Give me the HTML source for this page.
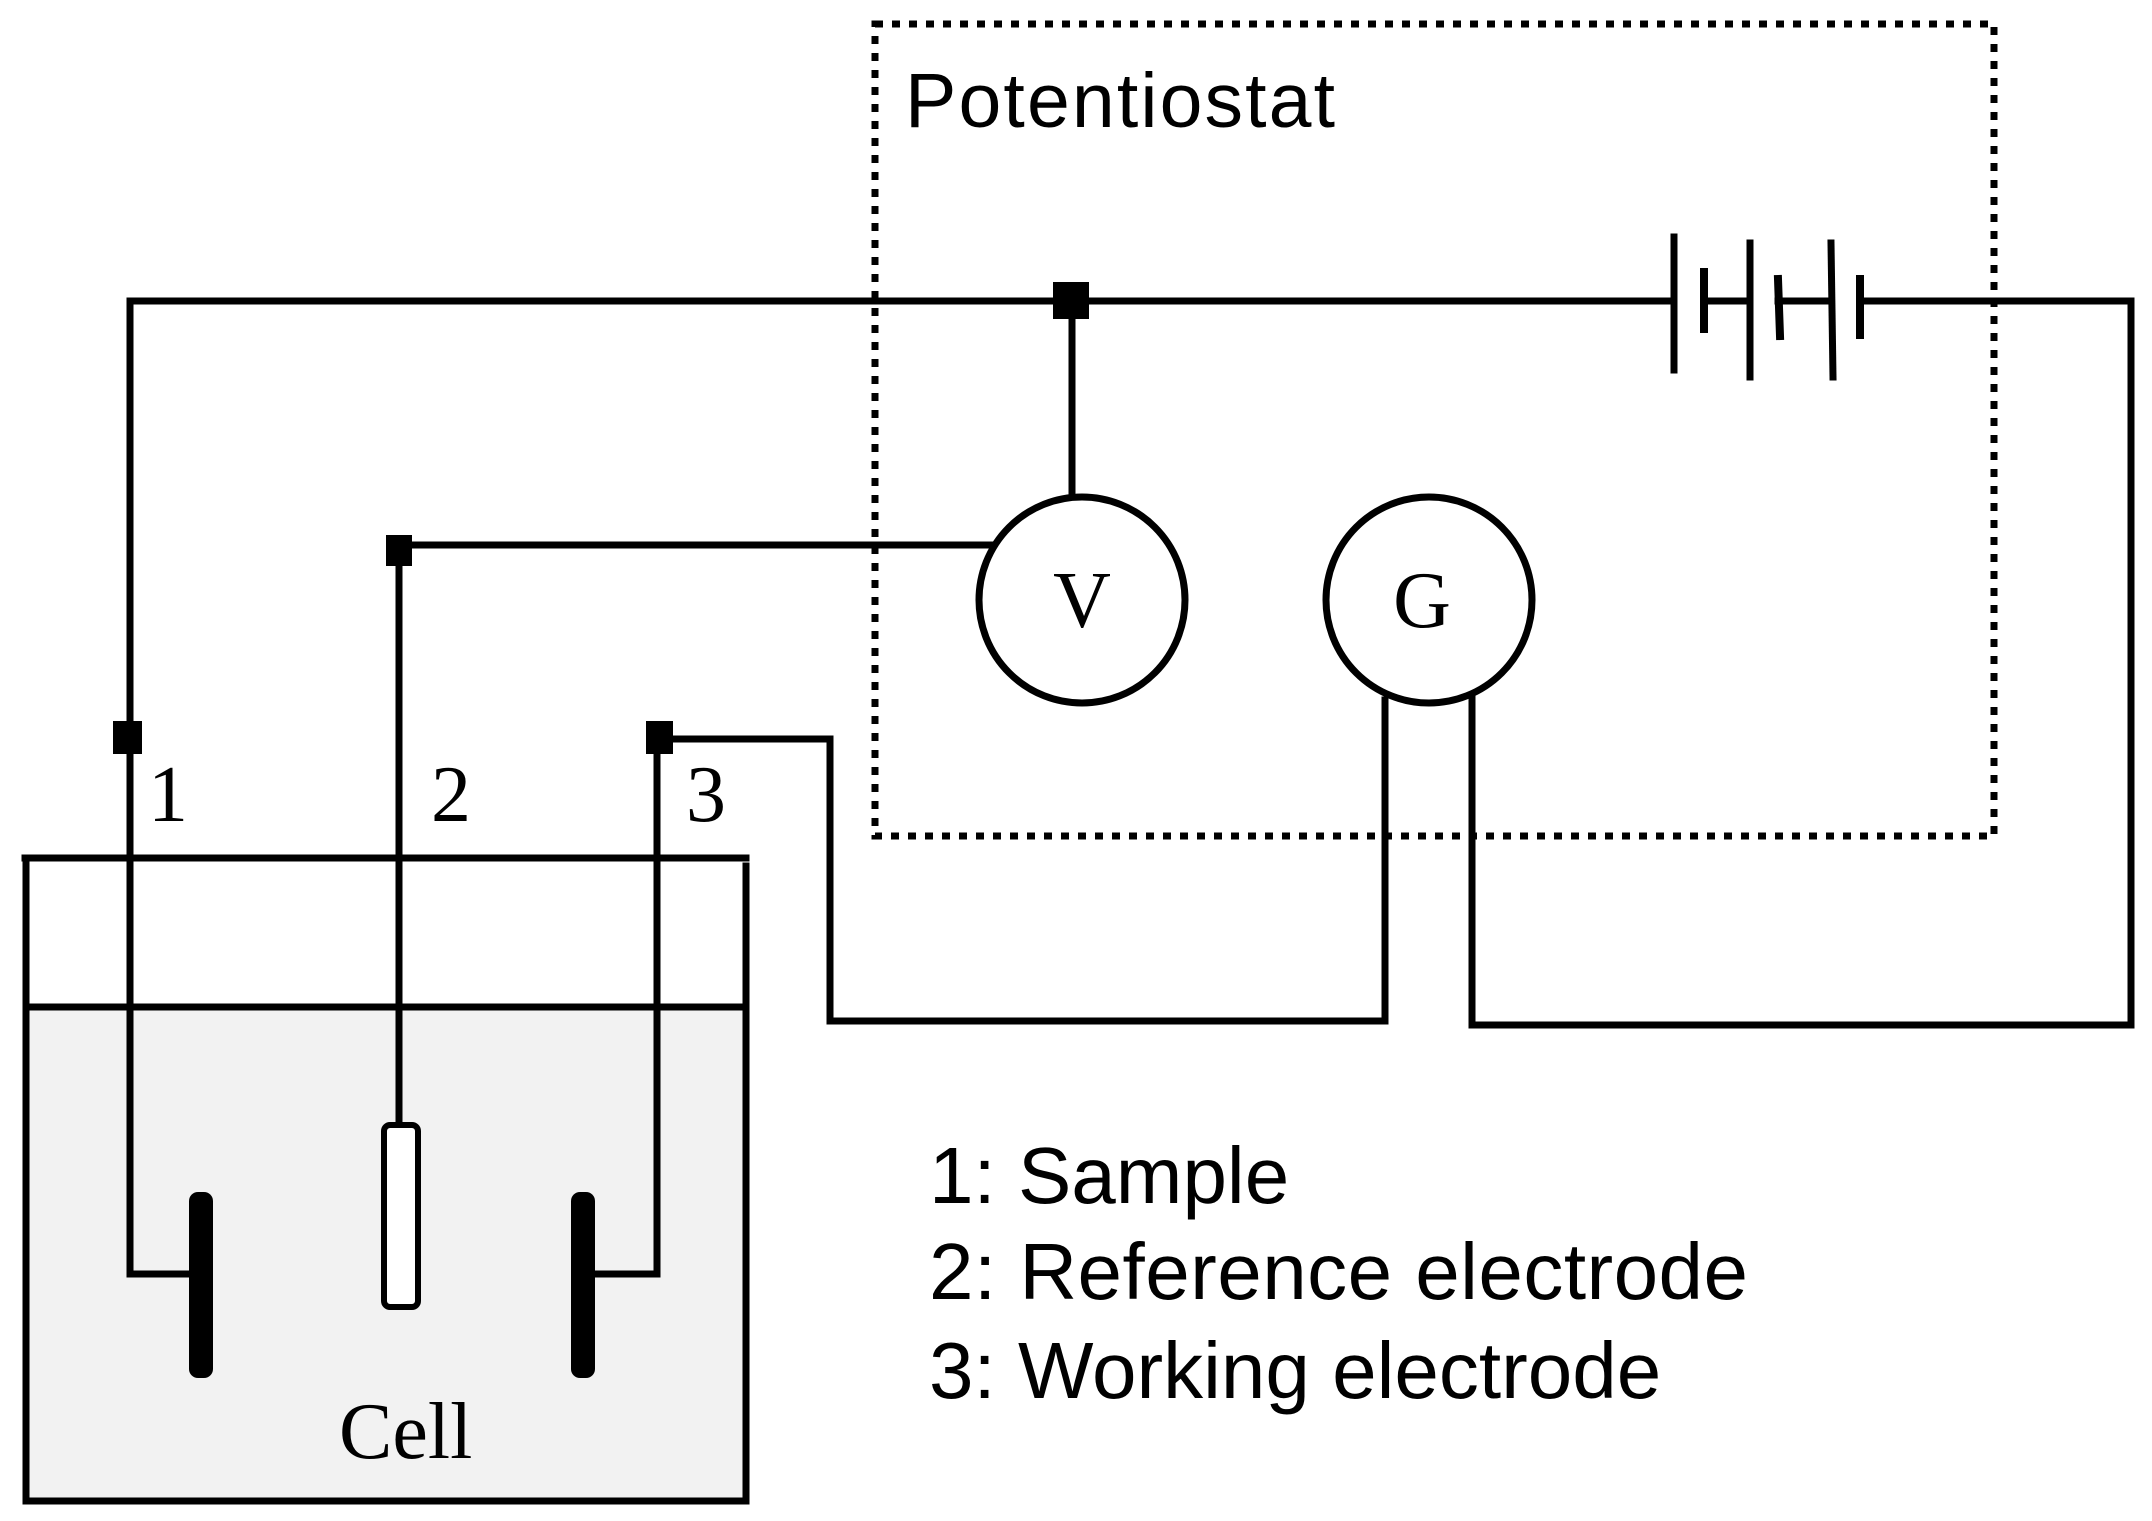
<!DOCTYPE html>
<html><head><meta charset="utf-8"><style>
html,body{margin:0;padding:0;background:#fff;}
svg{display:block;}
</style></head><body>
<svg width="2152" height="1521" viewBox="0 0 2152 1521" xmlns="http://www.w3.org/2000/svg">
<rect x="26" y="1007" width="720" height="494" fill="#f2f2f2"/>
<g fill="none" stroke="#000" stroke-width="7" stroke-linecap="square">
<!-- dotted potentiostat box -->
<rect x="875" y="24" width="1119" height="812" stroke-dasharray="8 9" stroke-width="7" stroke-linecap="butt"/>
<!-- top wire -->
<polyline points="130,740 130,301 1674,301"/>
<line x1="1704" y1="301" x2="1750" y2="301"/>
<line x1="1778" y1="301" x2="1831" y2="301"/>
<polyline points="1860,301 2131,301 2131,1025 1472,1025 1472,698"/>
<!-- battery plates -->
<line x1="1674" y1="237" x2="1674" y2="370"/>
<line x1="1704" y1="272" x2="1704" y2="329" stroke-width="8"/>
<line x1="1750" y1="243" x2="1750" y2="377"/>
<line x1="1778" y1="279" x2="1780" y2="336" stroke-width="8"/>
<line x1="1831" y1="243" x2="1833" y2="377"/>
<line x1="1860" y1="279" x2="1860" y2="335" stroke-width="8"/>
<!-- V branch -->
<line x1="1072" y1="301" x2="1072" y2="497"/>
<polyline points="399,1123 399,545 990,545"/>
<circle cx="1082" cy="600" r="103"/>
<circle cx="1429" cy="600" r="103"/>
<!-- wire 3 -->
<polyline points="657,1274 595,1274"/>
<polyline points="657,1274 657,739 830,739 830,1021 1385,1021 1385,700"/>
<!-- wire1 to electrode -->
<polyline points="130,740 130,1274 201,1274"/>
<!-- cell -->
<line x1="25" y1="858" x2="746" y2="858"/>
<polyline points="26,858 26,1501 746,1501 746,866"/>
<line x1="26" y1="1007" x2="746" y2="1007"/>
</g>
<!-- junction squares -->
<rect x="1053" y="282" width="36" height="37" fill="#000"/>
<rect x="386" y="535" width="26" height="31" fill="#000"/>
<rect x="113" y="721" width="29" height="33" fill="#000"/>
<rect x="646" y="721" width="27" height="33" fill="#000"/>
<!-- electrodes -->
<rect x="189" y="1192" width="24" height="186" rx="9" fill="#000"/>
<rect x="571" y="1192" width="24" height="186" rx="9" fill="#000"/>
<rect x="384" y="1125" width="34" height="182" rx="6" fill="#fff" stroke="#000" stroke-width="6"/>
<g font-family="Liberation Serif, serif" font-size="80" fill="#000">
<text x="148" y="821">1</text>
<text x="431" y="821">2</text>
<text x="686" y="821">3</text>
<text x="339" y="1458">Cell</text>
<text x="1082" y="627" text-anchor="middle">V</text>
<text x="1422" y="627" text-anchor="middle">G</text>
</g>
<g font-family="Liberation Sans, Arial, sans-serif" fill="#000">
<text x="905" y="127" font-size="77" textLength="430">Potentiostat</text>
<text x="929" y="1203" font-size="80">1: Sample</text>
<text x="929" y="1299" font-size="80" textLength="819">2: Reference electrode</text>
<text x="929" y="1398" font-size="80">3: Working electrode</text>
</g>
</svg>
</body></html>
